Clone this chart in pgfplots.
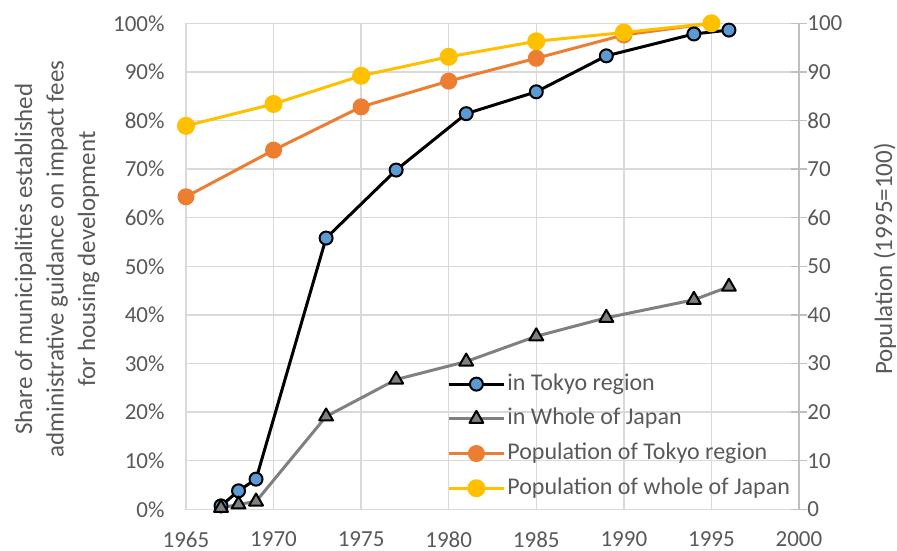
\documentclass[border=0pt]{standalone}
\usepackage{pgfplots}
\pgfplotsset{compat=1.18}
\usepackage{fontspec}
\setmainfont{Carlito}
\definecolor{textc}{HTML}{595959}
\definecolor{gridc}{HTML}{D9D9D9}
\definecolor{axc}{HTML}{BFBFBF}
\definecolor{cblue}{HTML}{5B9BD5}
\definecolor{cgrey}{HTML}{808080}
\definecolor{corange}{HTML}{ED7D31}
\definecolor{cyellow}{HTML}{FFC000}
\begin{document}
\begin{tikzpicture}
\begin{axis}[
  scale only axis, width=306.5pt, height=243pt,
  xmin=1965, xmax=2000, ymin=0, ymax=100,
  xtick={1965,1970,...,2000}, ytick={0,10,...,100},
  /pgf/number format/assume math mode=true,
  xticklabel style={/pgf/number format/1000 sep={}, font=\fontsize{11.5}{13}\selectfont, text=textc, inner sep=0pt, yshift=-11pt},
  yticklabel={\pgfmathprintnumber{\tick}\%},
  yticklabel style={font=\fontsize{11.5}{13}\selectfont, text=textc, inner sep=0pt, xshift=-10.5pt},
  major tick length=0pt,
  grid=major, major grid style={color=gridc, line width=0.75pt},
  axis line style={color=gridc, line width=0.75pt},
  x axis line style={color=axc},
  ylabel={Share of municipalities established\\administrative guidance on impact fees\\for housing development},
  every axis y label/.style={at={(rel axis cs:-0.2104,0.515)}, rotate=90, anchor=center, align=center, font=\fontsize{12.5}{15.75}\selectfont, text=textc},
  legend cell align=left,
  legend image code/.code={\draw[mark repeat=2,mark phase=2] plot coordinates {(0pt,0pt)(13.75pt,0pt)(27.5pt,0pt)};},
  legend style={at={(rel axis cs:0.4258,0.283)}, anchor=north west, draw=none, fill=none, inner sep=0pt,
    font=\fontsize{12}{14}\selectfont, text=textc, row sep=5.35pt,
    nodes={inner sep=0pt, text height=9pt, text depth=3pt},
    /tikz/every odd column/.append style={column sep=1pt}},
  clip=false,
]
\addplot[black, line width=1.5pt, line join=round, mark=*, mark size=3.25pt, mark options={fill=cblue, draw=black, line width=1pt}]
  coordinates {(1967,0.7)(1968,3.8)(1969,6.2)(1973,55.8)(1977,69.8)(1981,81.4)(1985,85.9)(1989,93.3)(1994,97.8)(1996,98.6)};
\addlegendentry{in Tokyo region}
\addplot[cgrey, line width=1.5pt, line join=round, mark=triangle*, mark size=4pt, mark options={fill=cgrey, draw=black, line width=1pt}]
  coordinates {(1967,0.3)(1968,1.0)(1969,1.6)(1973,19.1)(1977,26.7)(1981,30.4)(1985,35.6)(1989,39.4)(1994,43.1)(1996,45.8)};
\addlegendentry{in Whole of Japan}
\addplot[corange, line width=1.5pt, line join=round, mark=*, mark size=3.5pt, mark options={fill=corange, draw=corange}]
  coordinates {(1965,64.3)(1970,73.9)(1975,82.8)(1980,88.1)(1985,92.8)(1990,97.6)(1995,100)};
\addlegendentry{Population of Tokyo region}
\addplot[cyellow, line width=1.5pt, line join=round, mark=*, mark size=3.75pt, mark options={fill=cyellow, draw=cyellow}]
  coordinates {(1965,78.9)(1970,83.4)(1975,89.2)(1980,93.1)(1985,96.3)(1990,98.1)(1995,100)};
\addlegendentry{Population of whole of Japan}
\coordinate (bbl) at (rel axis cs:-0.3034,-0.0858);
\coordinate (btr) at (rel axis cs:1.1599,1.0479);
\end{axis}
\begin{axis}[
  scale only axis, width=306.5pt, height=243pt,
  xmin=1965, xmax=2000, ymin=0, ymax=100,
  axis x line=none, axis y line*=right,
  ytick={0,10,...,100},
  /pgf/number format/assume math mode=true,
  yticklabel style={font=\fontsize{11.5}{13}\selectfont, text=textc, inner sep=0pt, anchor=west},
  tick align=center, major tick length=8pt,
  tick style={color=axc, line width=0.75pt},
  axis line style={color=axc, line width=0.75pt, -},
  ylabel={Population (1995=100)},
  every axis y label/.style={at={(rel axis cs:1.1403,0.515)}, rotate=90, anchor=center, font=\fontsize{12.5}{15.75}\selectfont, text=textc},
]
\end{axis}
\pgfresetboundingbox
\path (bbl) rectangle (btr);
\end{tikzpicture}
\end{document}
